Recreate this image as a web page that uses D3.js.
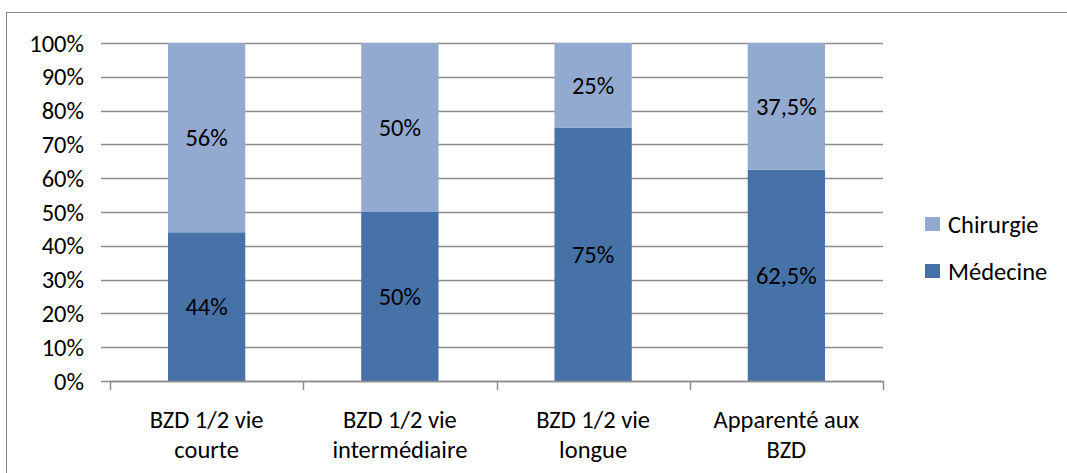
<!DOCTYPE html>
<html>
<head>
<meta charset="utf-8">
<script src="https://cdn.jsdelivr.net/npm/d3@7"></script>
<style>
  html, body { margin: 0; padding: 0; background: #fff; }
  svg { display: block; font-family: Carlito, Calibri, Lato, "Open Sans", sans-serif; }
</style>
</head>
<body>
<svg id="chart" width="1067" height="473"></svg>
<script>
// Categories (two-line labels) and series shares in percent
const categories = [
  ["BZD 1/2 vie", "courte"],
  ["BZD 1/2 vie", "intermédiaire"],
  ["BZD 1/2 vie", "longue"],
  ["Apparenté aux", "BZD"]
];
const medecine = [44, 50, 75, 62.5];
const chirurgie = [56, 50, 25, 37.5];
const medecineLabels = ["44%", "50%", "75%", "62,5%"];
const chirurgieLabels = ["56%", "50%", "25%", "37,5%"];
const yTicks = [0, 10, 20, 30, 40, 50, 60, 70, 80, 90, 100];
const seriesNames = ["Chirurgie", "Médecine"];
const colors = { "Médecine": "#4672A8", "Chirurgie": "#93AAD0" };

const FONT = 24.5;
const svg = d3.select("#chart");

// Outer frame
svg.append("rect")
  .attr("x", 6.5).attr("y", 12.5)
  .attr("width", 1080).attr("height", 480)
  .attr("fill", "none").attr("stroke", "#868686").attr("stroke-width", 1);

const plot = { left: 110, right: 883, top: 43, bottom: 381 };

const x = d3.scaleBand()
  .domain(d3.range(categories.length))
  .range([plot.left, plot.right])
  .paddingInner(0.6).paddingOuter(0.3);

const y = d3.scaleLinear().domain([0, 100]).range([plot.bottom, plot.top]);

// Horizontal gridlines with short left tick marks
svg.append("g")
  .selectAll("line")
  .data(yTicks)
  .join("line")
  .attr("x1", plot.left - 9).attr("x2", plot.right)
  .attr("y1", d => Math.round(y(d)) + 0.5).attr("y2", d => Math.round(y(d)) + 0.5)
  .attr("stroke", "#8c8c8c").attr("stroke-width", 1.5);

// Y-axis labels
svg.append("g")
  .selectAll("text")
  .data(yTicks)
  .join("text")
  .attr("x", 84)
  .attr("y", d => y(d))
  .attr("dy", "0.35em")
  .attr("text-anchor", "end")
  .attr("font-size", FONT)
  .attr("fill", "#000")
  .text(d => d + "%");

// Stacked series
const rows = categories.map((c, i) => ({ i, "Médecine": medecine[i], "Chirurgie": chirurgie[i] }));
const stack = d3.stack().keys(["Médecine", "Chirurgie"])(rows);

svg.append("g")
  .selectAll("g")
  .data(stack)
  .join("g")
  .attr("fill", s => colors[s.key])
  .selectAll("rect")
  .data(s => s)
  .join("rect")
  .attr("x", d => x(d.data.i))
  .attr("width", x.bandwidth())
  .attr("y", d => y(d[1]))
  .attr("height", d => y(d[0]) - y(d[1]));

// Value labels centered in each segment
const labelText = { "Médecine": medecineLabels, "Chirurgie": chirurgieLabels };
stack.forEach(s => {
  svg.append("g")
    .selectAll("text")
    .data(s)
    .join("text")
    .attr("x", d => x(d.data.i) + x.bandwidth() / 2)
    .attr("y", d => y((d[0] + d[1]) / 2))
    .attr("dy", "0.35em")
    .attr("text-anchor", "middle")
    .attr("font-size", FONT)
    .attr("fill", "#000")
    .text(d => labelText[s.key][d.data.i]);
});

// X axis line and category separators
const step = (plot.right - plot.left) / categories.length;
svg.append("line")
  .attr("x1", plot.left).attr("x2", plot.right)
  .attr("y1", plot.bottom + 0.5).attr("y2", plot.bottom + 0.5)
  .attr("stroke", "#8c8c8c").attr("stroke-width", 1.5);
svg.append("g")
  .selectAll("line")
  .data(d3.range(categories.length + 1))
  .join("line")
  .attr("x1", i => Math.round(plot.left + i * step) + 0.5)
  .attr("x2", i => Math.round(plot.left + i * step) + 0.5)
  .attr("y1", plot.bottom).attr("y2", plot.bottom + 9)
  .attr("stroke", "#8c8c8c").attr("stroke-width", 1.5);

// Category labels (two lines)
svg.append("g")
  .selectAll("text")
  .data(categories)
  .join("text")
  .attr("x", (c, i) => x(i) + x.bandwidth() / 2)
  .attr("text-anchor", "middle")
  .attr("font-size", FONT)
  .attr("fill", "#000")
  .each(function (c) {
    d3.select(this).selectAll("tspan")
      .data(c)
      .join("tspan")
      .attr("x", d3.select(this).attr("x"))
      .attr("y", (t, k) => 428 + k * 30)
      .text(t => t);
  });

// Legend
const legend = svg.append("g")
  .selectAll("g")
  .data(seriesNames)
  .join("g")
  .attr("transform", (d, k) => `translate(925, ${217 + k * 47})`);
legend.append("rect")
  .attr("width", 15).attr("height", 14)
  .attr("fill", d => colors[d]);
legend.append("text")
  .attr("x", 23).attr("y", 7).attr("dy", "0.35em")
  .attr("font-size", FONT)
  .attr("fill", "#000")
  .text(d => d);
</script>
</body>
</html>
